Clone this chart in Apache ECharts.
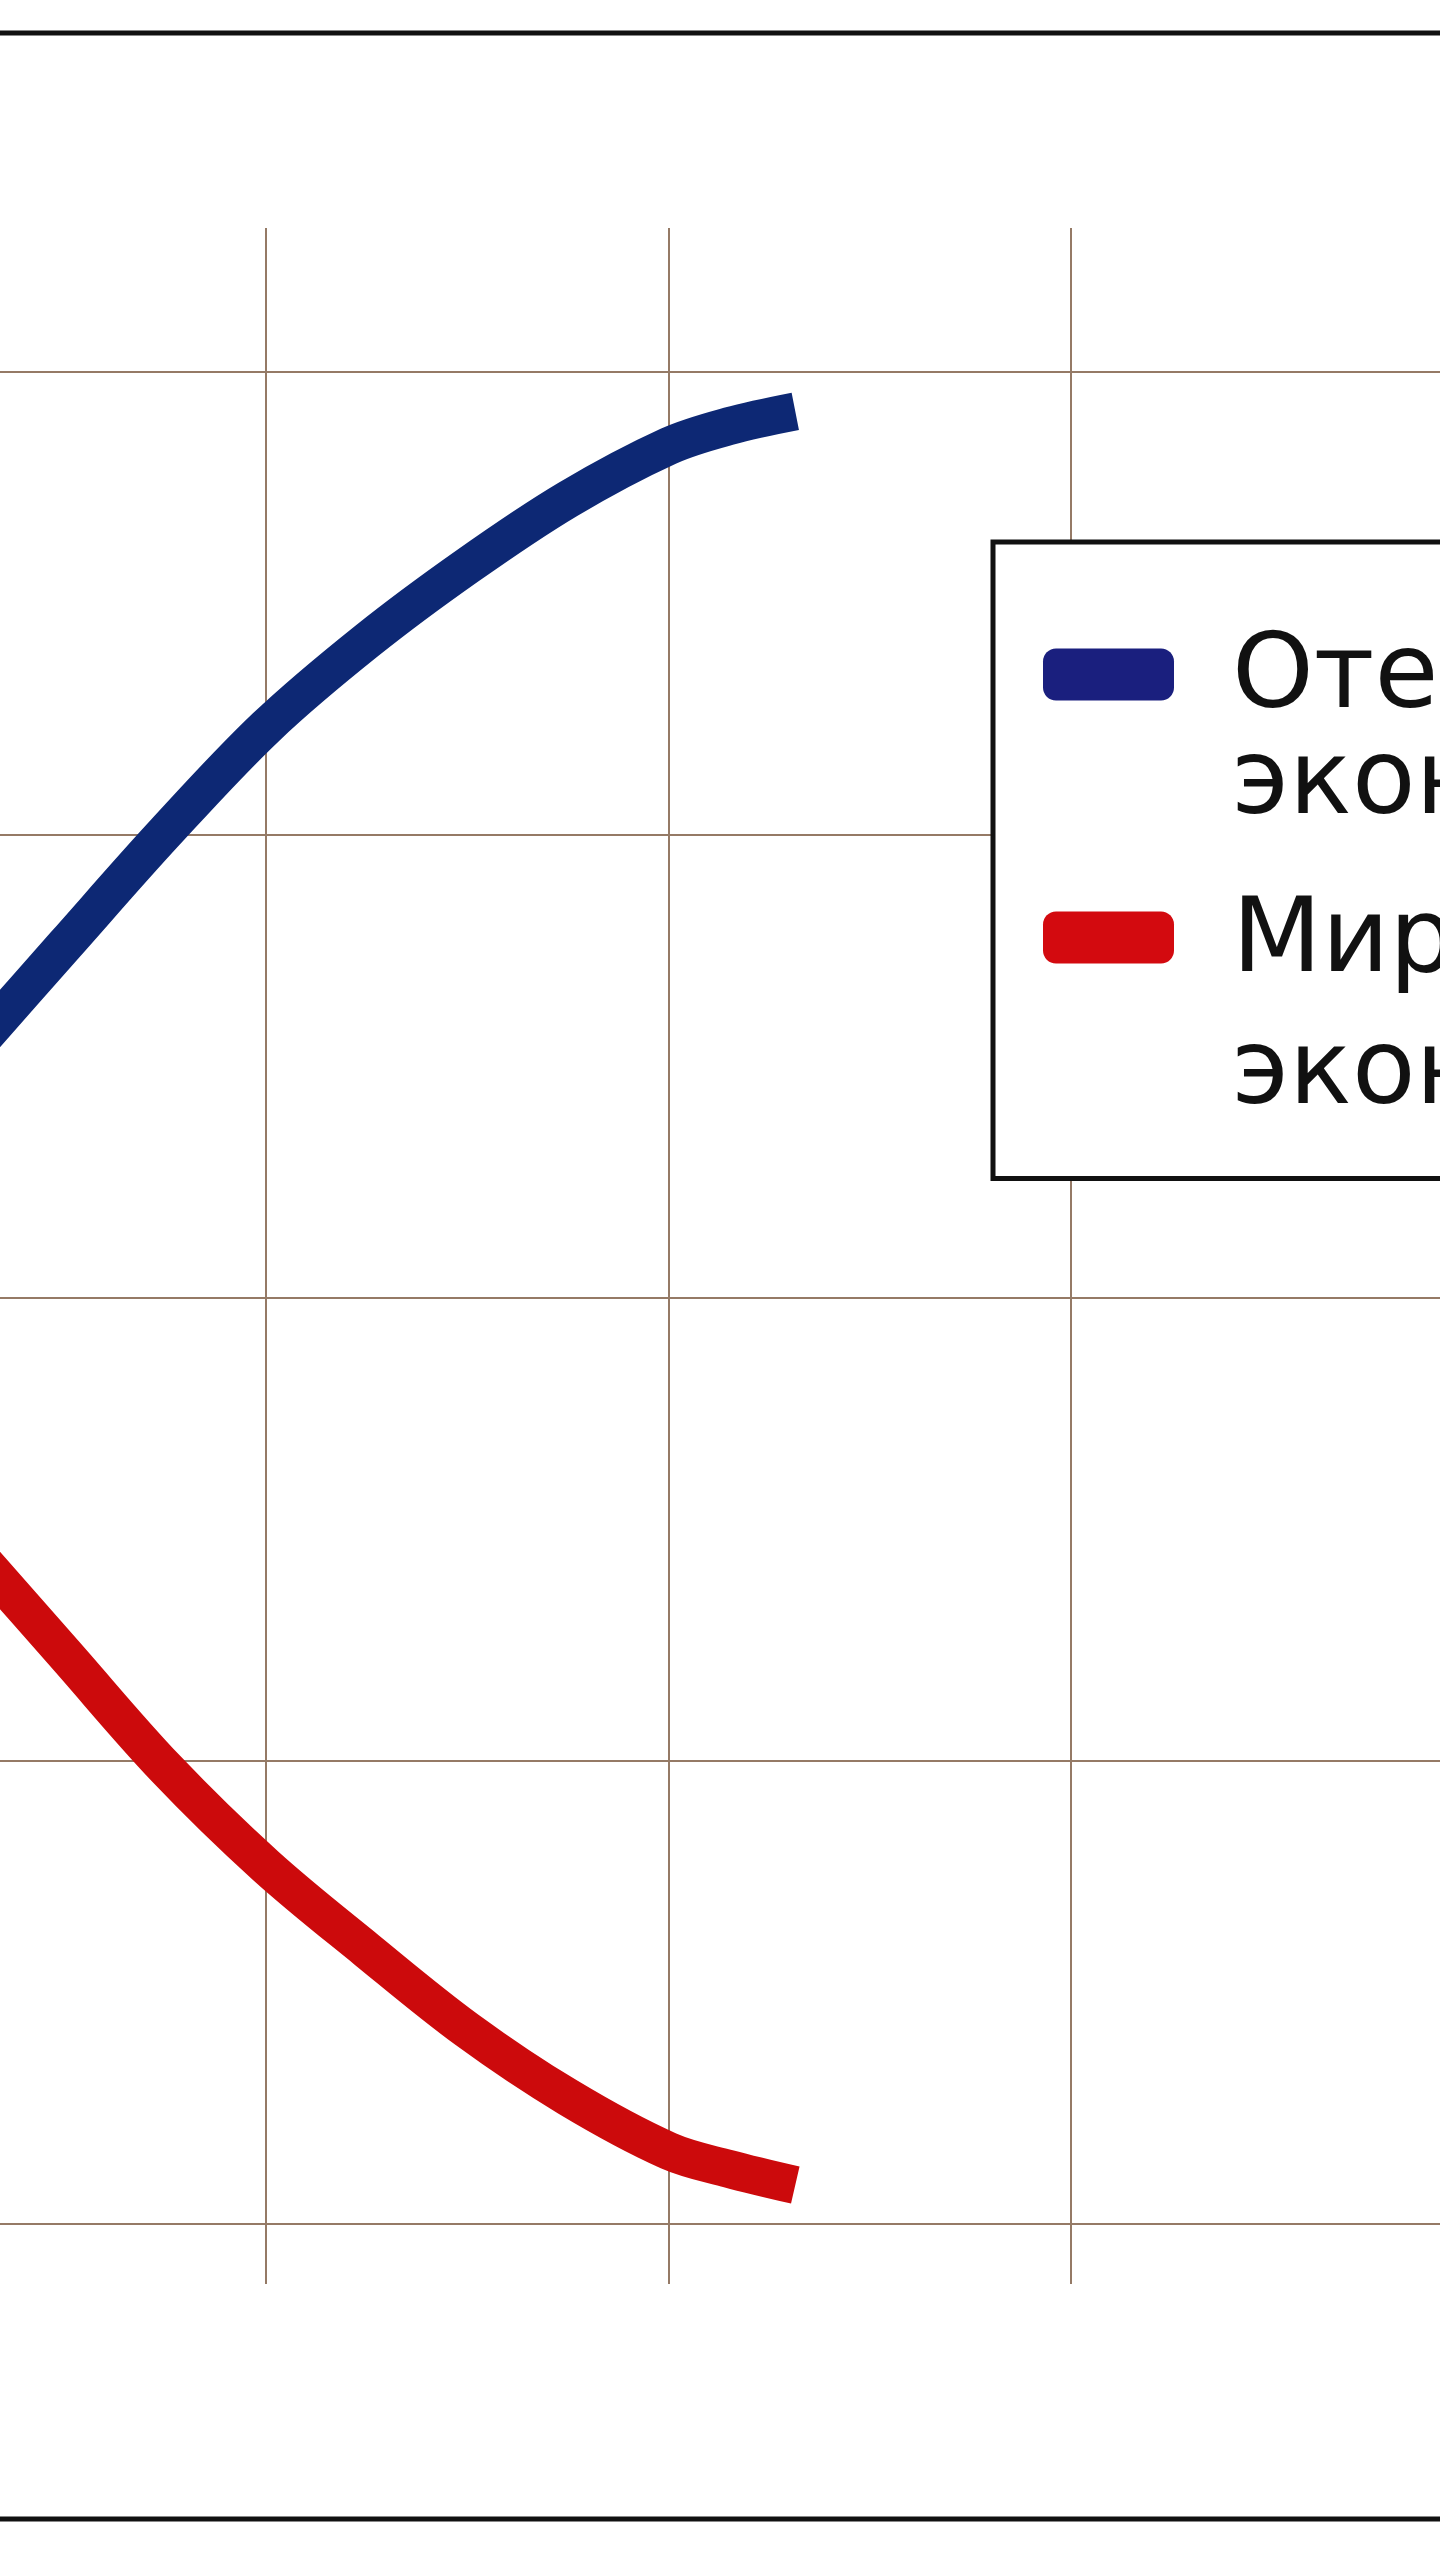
<!DOCTYPE html>
<html>
<head>
<meta charset="utf-8">
<title>Экономика</title>
<script src="https://cdn.jsdelivr.net/npm/echarts@6/dist/echarts.min.js"></script>
<style>
  html, body { margin: 0; padding: 0; background: #ffffff; }
  #chart { width: 1440px; height: 2560px; }
</style>
</head>
<body>
<div id="chart"></div>
<script>
// значения по оси X (деления сетки стоят на 1, 2, 3)
var xValues = [0.25, 0.5, 0.75, 1.0, 1.25, 1.5, 1.75, 2.0, 2.15, 2.315];
// отечественная экономика (синяя линия)
var domestic = [2.516, 2.762, 3.006, 3.233, 3.419, 3.581, 3.725, 3.84, 3.883, 3.915];
// мировая экономика (красная линия)
var world = [1.478, 1.231, 0.985, 0.773, 0.592, 0.419, 0.274, 0.158, 0.119, 0.084];
var seriesNames = ['Отечественная экономика', 'Мировая экономика'];

var blue = '#0d2874';
var red = '#cc0a0c';
var gridColor = '#957a66';
var font = 'DejaVu Sans';

function pairs(xs, ys) {
    return xs.map(function (x, i) { return [x, ys[i]]; });
}

function richLine(lineHeight, align) {
    return {
        fontSize: 104, fontFamily: font, color: '#111111',
        lineHeight: lineHeight, verticalAlign: align
    };
}

// общие настройки скрытых осей
function hiddenAxis(extra) {
    var axis = {
        type: 'value',
        axisLine: { show: false },
        axisTick: { show: false },
        axisLabel: { show: false },
        splitLine: { show: false }
    };
    for (var k in extra) axis[k] = extra[k];
    return axis;
}

var option = {
    backgroundColor: '#ffffff',
    animation: false,
    grid: [
        // сетка с данными и горизонтальными линиями
        { left: -136.5, right: -33.5, top: 372, bottom: 336, outerBoundsMode: 'none', show: false },
        // вертикальные линии сетки, они длиннее горизонтальной области
        { left: -136.5, right: -33.5, top: 228, bottom: 276, outerBoundsMode: 'none', show: false }
    ],
    xAxis: [
        hiddenAxis({ gridIndex: 0, min: 0, max: 4, interval: 1 }),
        hiddenAxis({
            gridIndex: 1, min: 0, max: 4, interval: 1,
            splitLine: { show: true, lineStyle: { color: gridColor, width: 2 } }
        })
    ],
    yAxis: [
        hiddenAxis({
            gridIndex: 0, min: 0, max: 4, interval: 1,
            splitLine: { show: true, lineStyle: { color: gridColor, width: 2 } }
        }),
        hiddenAxis({ gridIndex: 1, min: 0, max: 1 })
    ],
    legend: {
        orient: 'vertical',
        left: 993,
        top: 542,
        padding: [86, 0, 51, 50],
        itemWidth: 131,
        itemHeight: 52,
        itemGap: 54,
        icon: 'roundRect',
        backgroundColor: '#ffffff',
        borderColor: '#111111',
        borderWidth: 5,
        borderRadius: 0,
        selectedMode: false,
        itemStyle: { borderWidth: 0 },
        data: [
            { name: seriesNames[0], itemStyle: { color: '#1a1f7e' } },
            { name: seriesNames[1], itemStyle: { color: '#d30a0f' } }
        ],
        formatter: function (name) {
            var parts = name.split(' ');
            var key = name === seriesNames[0] ? 'd' : 'w';
            return '{' + key + '1|' + parts[0] + '}\n{' + key + '2|' + parts[1] + '}';
        },
        textStyle: {
            fontSize: 104,
            fontFamily: font,
            color: '#111111',
            padding: [0, 0, 0, 53],
            rich: {
                d1: richLine(223, 'bottom'),
                d2: richLine(108, 'middle'),
                w1: richLine(276, 'bottom'),
                w2: richLine(159, 'middle')
            }
        }
    },
    graphic: [
        {
            type: 'rect',
            z: 100,
            silent: true,
            shape: { x: -10, y: 33, width: 1460, height: 2486 },
            style: { fill: 'none', stroke: '#111111', lineWidth: 5 }
        }
    ],
    series: [
        {
            name: seriesNames[0],
            type: 'line',
            xAxisIndex: 0,
            yAxisIndex: 0,
            data: pairs(xValues, domestic),
            smooth: 0.35,
            symbol: 'none',
            showSymbol: false,
            clip: false,
            color: blue,
            lineStyle: { color: blue, width: 38, cap: 'butt', join: 'round' },
            z: 3
        },
        {
            name: seriesNames[1],
            type: 'line',
            xAxisIndex: 0,
            yAxisIndex: 0,
            data: pairs(xValues, world),
            smooth: 0.35,
            symbol: 'none',
            showSymbol: false,
            clip: false,
            color: red,
            lineStyle: { color: red, width: 38, cap: 'butt', join: 'round' },
            z: 3
        }
    ]
};

var myChart = echarts.init(document.getElementById('chart'));
myChart.setOption(option);

window.addEventListener('resize', function () {
    myChart.resize();
});
</script>
</body>
</html>
